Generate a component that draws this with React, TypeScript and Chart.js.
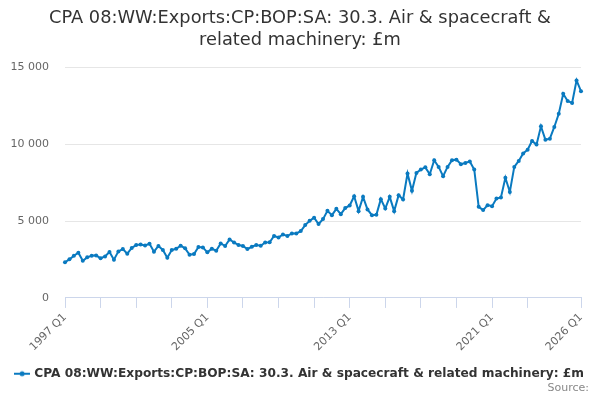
import { useEffect, useRef } from 'react';
import Chart from 'chart.js/auto';

const TITLE = ['CPA 08:WW:Exports:CP:BOP:SA: 30.3. Air & spacecraft &', 'related machinery: £m'];
const SERIES_NAME = 'CPA 08:WW:Exports:CP:BOP:SA: 30.3. Air & spacecraft & related machinery: £m';
const SOURCE = 'Source:';

const FIRST_YEAR = 1997;
const LAST_YEAR = 2026;
// quarters (index from 1997 Q1) that get a tick mark, and which labels are shown
const TICK_QUARTERS = [0, 8, 16, 24, 32, 40, 48, 56, 64, 72, 80, 88, 96, 104, 116];
const LABELLED_TICKS = ['1997 Q1', '2005 Q1', '2013 Q1', '2021 Q1', '2026 Q1'];

const quarters: string[] = [];
for (let y = FIRST_YEAR; y <= LAST_YEAR; y++) {
  for (let q = 1; q <= 4; q++) {
    if (y === LAST_YEAR && q > 1) break;
    quarters.push(`${y} Q${q}`);
  }
}

// £m, 1997 Q1 .. 2026 Q1
const exportsValues = [
  2320, 2510, 2750, 2940, 2420, 2640, 2750, 2770, 2580, 2700,
  2990, 2490, 3030, 3180, 2880, 3250, 3440, 3480, 3420, 3530,
  3010, 3380, 3120, 2620, 3120, 3200, 3400, 3230, 2810, 2860,
  3310, 3290, 2970, 3200, 3070, 3550, 3380, 3810, 3610, 3440,
  3380, 3180, 3330, 3440, 3400, 3610, 3620, 4030, 3940, 4130,
  4030, 4200, 4200, 4350, 4740, 5020, 5220, 4810, 5130, 5670,
  5390, 5800, 5450, 5850, 6020, 6620, 5650, 6580, 5760, 5390,
  5410, 6430, 5820, 6580, 5650, 6690, 6410, 8100, 6970, 8140,
  8360, 8500, 8050, 8960, 8530, 7920, 8530, 8960, 9000, 8700,
  8790, 8880, 8360, 5930, 5720, 6040, 5970, 6470, 6540, 7820,
  6900, 8530, 8920, 9400, 9650, 10220, 9980, 11170, 10300, 10370,
  11130, 11990, 13290, 12820, 12690, 14160, 13460,
];

const LINE_COLOR = '#0a7ac0';
const FONT = 'DejaVu Sans';

const fmt = (v: number) => String(v).replace(/\B(?=(\d{3})+(?!\d))/g, ' ');

// legend symbol: short line with a marker in the middle
const makeLegendSymbol = () => {
  const c = document.createElement('canvas');
  c.width = 16;
  c.height = 8;
  const g = c.getContext('2d');
  if (g) {
    g.strokeStyle = LINE_COLOR;
    g.lineWidth = 2;
    g.beginPath();
    g.moveTo(0, 4);
    g.lineTo(16, 4);
    g.stroke();
    g.fillStyle = LINE_COLOR;
    g.beginPath();
    g.arc(8, 4, 2.5, 0, Math.PI * 2);
    g.fill();
  }
  return c;
};

const App = () => {
  const canvasRef = useRef<HTMLCanvasElement>(null);

  useEffect(() => {
    if (!canvasRef.current) return;
    const chart = new Chart(canvasRef.current, {
      type: 'line',
      data: {
        labels: quarters,
        datasets: [{
          label: SERIES_NAME,
          data: exportsValues,
          borderColor: LINE_COLOR,
          backgroundColor: LINE_COLOR,
          borderWidth: 2,
          pointRadius: 2,
          pointBorderWidth: 0,
          tension: 0,
        }],
      },
      options: {
        animation: false,
        responsive: true,
        maintainAspectRatio: false,
        layout: { padding: { left: 11, right: 11, top: 7, bottom: 0 } },
        scales: {
          x: {
            offset: false,
            afterBuildTicks: (scale) => {
              scale.ticks = TICK_QUARTERS.map(v => ({ value: v }));
            },
            afterFit: (scale) => {
              scale.height += 5;
              // plot ends at x = 581, a little short of the titles' right edge
              scale.paddingRight = 19;
            },
            ticks: {
              autoSkip: false,
              maxRotation: 45,
              minRotation: 45,
              padding: 3,
              color: '#666',
              font: { family: FONT, size: 11 },
              callback: function (value) {
                const lbl = quarters[value as number];
                return LABELLED_TICKS.includes(lbl) ? lbl : '';
              },
            },
            grid: {
              drawOnChartArea: false,
              drawTicks: true,
              tickLength: 10,
              color: '#ccd6eb',
            },
            border: { color: '#ccd6eb' },
          },
          y: {
            min: 0,
            max: 15000,
            afterFit: (scale) => {
              scale.width = 54;
            },
            ticks: {
              stepSize: 5000,
              padding: 16,
              color: '#666',
              font: { family: FONT, size: 11 },
              callback: (v) => fmt(v as number),
            },
            grid: { color: '#e6e6e6', drawTicks: false },
            border: { display: false },
          },
        },
        plugins: {
          title: {
            display: true,
            text: TITLE,
            color: '#333',
            font: { family: FONT, size: 17.8, weight: 'normal', lineHeight: 1.25 },
            padding: { top: 0, bottom: 16 },
          },
          subtitle: {
            display: true,
            position: 'bottom',
            align: 'end',
            text: SOURCE,
            color: '#888',
            font: { family: FONT, size: 11 },
            padding: { top: -8, bottom: 5 },
          },
          legend: {
            position: 'bottom',
            labels: {
              usePointStyle: true,
              pointStyle: makeLegendSymbol(),
              color: '#333',
              font: { family: FONT, size: 12.2, weight: 'bold' },
              padding: 6,
            },
          },
          tooltip: { enabled: false },
        },
      },
    });

    return () => {
      chart.destroy();
    };
  }, []);

  return (
    <div style={{ position: 'absolute', left: 0, top: 0, width: 600, height: 400 }}>
      <canvas ref={canvasRef} />
    </div>
  );
};

export default App;
